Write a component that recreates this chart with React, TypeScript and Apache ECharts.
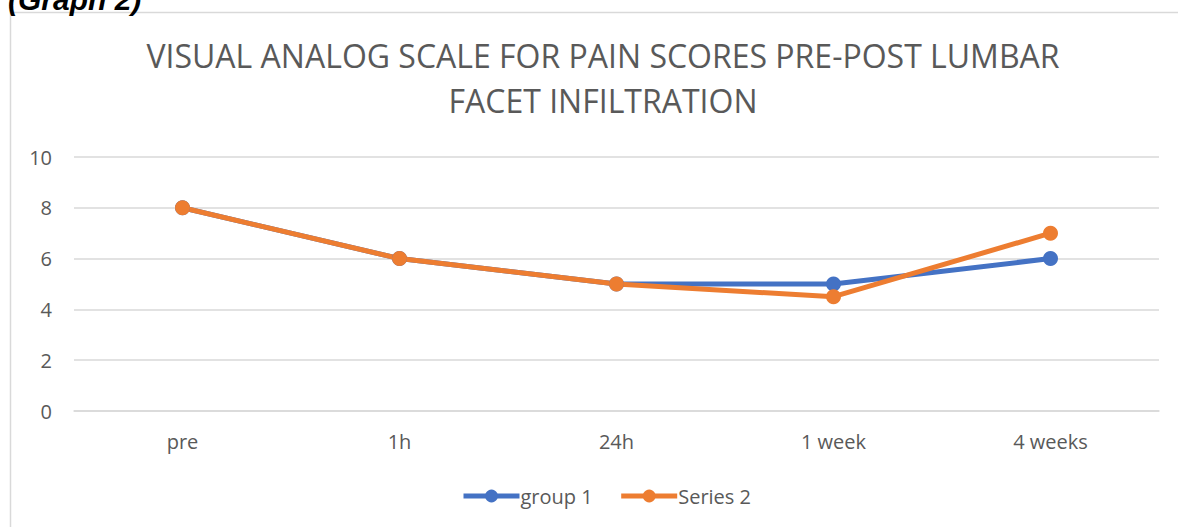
import React, { useEffect, useRef } from "react";
import * as echarts from "echarts";

const categories = ["pre", "1h", "24h", "1 week", "4 weeks"];
const group1 = [8, 6, 5, 5, 6];
const series2 = [8, 6, 5, 4.5, 7];
const titleText = "VISUAL ANALOG SCALE FOR PAIN SCORES PRE-POST LUMBAR\nFACET INFILTRATION";

export default function App() {
  const ref = useRef<HTMLDivElement>(null);
  useEffect(() => {
    const chart = echarts.init(ref.current!, null, { renderer: "svg" });
    const font = "Open Sans, Noto Sans, sans-serif";
    chart.setOption({
      animation: false,
      backgroundColor: "#ffffff",
      textStyle: { fontFamily: font },
      title: {
        text: titleText,
        left: 598,
        top: 28,
        textAlign: "center",
        textStyle: {
          fontFamily: font,
          fontSize: 32,
          fontWeight: "normal",
          color: "#595959",
          lineHeight: 45,
        },
      },
      graphic: [
        {
          type: "rect",
          shape: { x: 10.5, y: 12.5, width: 1300, height: 700 },
          style: { fill: "none", stroke: "#d9d9d9", lineWidth: 1.5 },
          silent: true,
          z: 0,
        },
        {
          type: "text",
          left: 8,
          top: -16,
          style: {
            text: "(Graph 2)",
            fontFamily: "Liberation Sans, Arial, sans-serif",
            fontSize: 30,
            fontWeight: "bold",
            fontStyle: "italic",
            fill: "#000000",
          },
        },
      ],
      legend: {
        bottom: 16,
        left: 456,
        itemWidth: 56,
        itemHeight: 16,
        itemGap: 26,
        lineStyle: { width: 5 },
        textStyle: { fontFamily: font, fontSize: 20, color: "#595959", padding: [0, 0, 0, -4] },
        data: ["group 1", "Series 2"],
      },
      grid: { left: 74, right: 19, top: 157, bottom: 116, containLabel: false },
      xAxis: {
        type: "category",
        data: categories,
        boundaryGap: true,
        axisLine: { show: true, lineStyle: { color: "#d9d9d9", width: 1.5 } },
        axisTick: { show: false },
        axisLabel: { fontFamily: font, fontSize: 20, color: "#595959", margin: 20 },
      },
      yAxis: {
        type: "value",
        min: 0,
        max: 10,
        interval: 2,
        axisLine: { show: false },
        axisTick: { show: false },
        splitLine: { lineStyle: { color: "#d9d9d9", width: 1.5 } },
        axisLabel: { fontFamily: font, fontSize: 20, color: "#595959", margin: 22 },
      },
      series: [
        {
          name: "group 1",
          type: "line",
          data: group1,
          color: "#4472C4",
          symbol: "circle",
          symbolSize: 15,
          lineStyle: { width: 5, color: "#4472C4" },
          itemStyle: { color: "#4472C4" },
        },
        {
          name: "Series 2",
          type: "line",
          data: series2,
          color: "#ED7D31",
          symbol: "circle",
          symbolSize: 15,
          lineStyle: { width: 5, color: "#ED7D31" },
          itemStyle: { color: "#ED7D31" },
        },
      ],
    });
    return () => chart.dispose();
  }, []);
  return (
    <div
      ref={ref}
      style={{ position: "fixed", left: 0, top: 0, width: 1178, height: 527 }}
    />
  );
}
